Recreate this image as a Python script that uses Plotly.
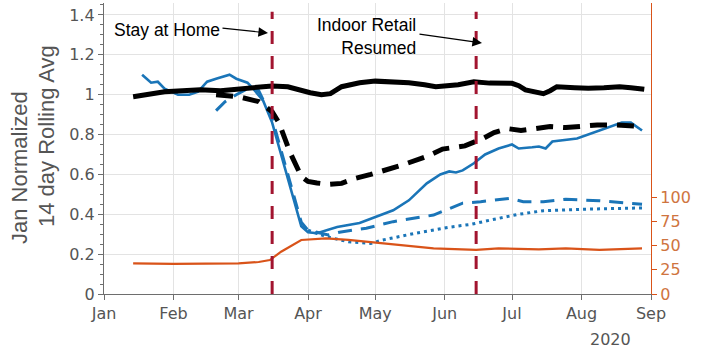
import plotly.graph_objects as go

# ---- data -------------------------------------------------------------
# Jan-normalized 14-day rolling averages (left axis)
black_solid_dates = ["2020-01-14", "2020-01-21", "2020-01-28", "2020-02-05", "2020-02-13",
                     "2020-02-22", "2020-03-01", "2020-03-09", "2020-03-16", "2020-03-23",
                     "2020-03-28", "2020-04-02", "2020-04-07", "2020-04-11", "2020-04-16",
                     "2020-04-24", "2020-05-01", "2020-05-09", "2020-05-16", "2020-05-23",
                     "2020-05-28", "2020-06-02", "2020-06-07", "2020-06-14", "2020-06-21",
                     "2020-07-01", "2020-07-04", "2020-07-07", "2020-07-12", "2020-07-15",
                     "2020-07-18", "2020-07-21", "2020-07-29", "2020-08-04", "2020-08-11",
                     "2020-08-18", "2020-08-23", "2020-08-29"]
black_solid = [0.99, 1.005, 1.015, 1.02, 1.025, 1.02, 1.03, 1.035, 1.044, 1.04,
               1.024, 1.01, 1.0, 1.005, 1.04, 1.06, 1.068, 1.065, 1.06, 1.05,
               1.04, 1.045, 1.05, 1.065, 1.058, 1.057, 1.045, 1.024, 1.01, 1.005,
               1.02, 1.04, 1.035, 1.032, 1.035, 1.04, 1.035, 1.027]

black_dash_dates = ["2020-02-20", "2020-03-01", "2020-03-10", "2020-03-16", "2020-03-19",
                    "2020-03-24", "2020-03-29", "2020-04-01", "2020-04-05", "2020-04-10",
                    "2020-04-16", "2020-04-22", "2020-04-29", "2020-05-06", "2020-05-13",
                    "2020-05-24", "2020-05-31", "2020-06-10", "2020-06-18", "2020-06-23",
                    "2020-06-29", "2020-07-05", "2020-07-11", "2020-07-18", "2020-07-25",
                    "2020-08-08", "2020-08-16", "2020-08-28"]
black_dash = [1.0, 0.99, 0.965, 0.915, 0.86, 0.71, 0.59, 0.565, 0.557, 0.55,
              0.555, 0.58, 0.60, 0.622, 0.647, 0.69, 0.727, 0.743, 0.78, 0.81,
              0.83, 0.82, 0.83, 0.84, 0.835, 0.848, 0.848, 0.84]

blue_solid_dates = ["2020-01-18", "2020-01-22", "2020-01-25", "2020-01-28", "2020-02-03",
                    "2020-02-08", "2020-02-12", "2020-02-16", "2020-02-20", "2020-02-26",
                    "2020-02-29", "2020-03-05", "2020-03-08", "2020-03-12", "2020-03-16",
                    "2020-03-19", "2020-03-25", "2020-03-29", "2020-04-01", "2020-04-05",
                    "2020-04-14", "2020-04-24", "2020-05-09", "2020-05-16", "2020-05-24",
                    "2020-05-30", "2020-06-03", "2020-06-06", "2020-06-09", "2020-06-14",
                    "2020-06-19", "2020-06-25", "2020-07-01", "2020-07-04", "2020-07-10",
                    "2020-07-13", "2020-07-16", "2020-07-19", "2020-07-30", "2020-08-04",
                    "2020-08-12", "2020-08-19", "2020-08-23", "2020-08-28"]
blue_solid = [1.10, 1.06, 1.065, 1.03, 1.0, 1.0, 1.015, 1.065, 1.08, 1.10,
              1.08, 1.06, 1.024, 0.97, 0.86, 0.74, 0.51, 0.34, 0.31, 0.305,
              0.336, 0.356, 0.42, 0.47, 0.555, 0.60, 0.615, 0.61, 0.62, 0.656,
              0.70, 0.73, 0.75, 0.73, 0.736, 0.74, 0.73, 0.765, 0.78, 0.80,
              0.83, 0.86, 0.86, 0.82]

blue_dash_dates = ["2020-02-20", "2020-02-24", "2020-02-29", "2020-03-05", "2020-03-10",
                   "2020-03-16", "2020-03-19", "2020-03-25", "2020-03-29", "2020-04-01",
                   "2020-04-10", "2020-04-15", "2020-04-27", "2020-05-09", "2020-05-27",
                   "2020-06-09", "2020-06-17", "2020-06-30", "2020-07-06", "2020-07-15",
                   "2020-07-25", "2020-08-09", "2020-08-24", "2020-08-28"]
blue_dash = [0.92, 0.965, 1.0, 1.03, 1.02, 0.88, 0.76, 0.52, 0.36, 0.32,
             0.296, 0.31, 0.33, 0.363, 0.396, 0.456, 0.463, 0.48, 0.463, 0.463,
             0.475, 0.468, 0.455, 0.45]

blue_dot_dates = ["2020-04-01", "2020-04-09", "2020-04-19", "2020-04-29", "2020-05-04",
                  "2020-05-19", "2020-06-03", "2020-06-13", "2020-06-21", "2020-07-03",
                  "2020-07-15", "2020-08-01", "2020-08-28"]
blue_dot = [0.32, 0.288, 0.262, 0.254, 0.27, 0.305, 0.335, 0.35, 0.37, 0.398,
            0.418, 0.425, 0.432]

# Right-axis series
orange_dates = ["2020-01-14", "2020-02-01", "2020-03-01", "2020-03-10", "2020-03-15",
                "2020-03-20", "2020-03-29", "2020-04-09", "2020-04-19", "2020-05-04",
                "2020-05-27", "2020-06-15", "2020-06-25", "2020-07-13", "2020-07-25",
                "2020-08-09", "2020-08-28"]
orange = [31.5, 31, 31.5, 33, 35, 43.6, 55.7, 57.4, 55.7, 52.3,
          47, 45.4, 47, 46, 47, 45.4, 47]

# Policy events
event_dates = ["2020-03-16", "2020-06-15"]

left_ticks = [0, 0.2, 0.4, 0.6, 0.8, 1.0, 1.2, 1.4]
left_tick_text = ["0", "0.2", "0.4", "0.6", "0.8", "1", "1.2", "1.4"]
right_ticks = [0, 25, 50, 75, 100]
month_ticks = ["2020-01-01", "2020-02-01", "2020-03-01", "2020-04-01", "2020-05-01",
               "2020-06-01", "2020-07-01", "2020-08-01", "2020-09-01"]

# ---- styling ----------------------------------------------------------
BLUE = "#1f77b4"
BLUE = "#1a75b8"
ORANGE = "#d95319"
MAROON = "#a2142f"
AXIS_GRAY = "#6e6e6e"
TEXT_GRAY = "#555555"
W, H = 702, 352
L, R, T, B = 104, 51, 3, 58
TICK_FONT = dict(family="DejaVu Sans", size=16, color=TEXT_GRAY)


def px_x(x):
    return (x - L) / (W - L - R)


def px_y(y):
    return (H - B - y) / (H - T - B)


fig = go.Figure()

fig.add_trace(go.Scatter(x=orange_dates, y=orange, yaxis="y2", mode="lines",
                         line=dict(color=ORANGE, width=2.2), showlegend=False))
fig.add_trace(go.Scatter(x=blue_dot_dates, y=blue_dot, mode="lines",
                         line=dict(color=BLUE, width=3, dash="3px,4px"), showlegend=False))
fig.add_trace(go.Scatter(x=blue_dash_dates, y=blue_dash, mode="lines",
                         line=dict(color=BLUE, width=3, dash="14px,9px"), showlegend=False))
fig.add_trace(go.Scatter(x=blue_solid_dates, y=blue_solid, mode="lines",
                         line=dict(color=BLUE, width=2.6), showlegend=False))
fig.add_trace(go.Scatter(x=black_dash_dates, y=black_dash, mode="lines",
                         line=dict(color="black", width=5, dash="17px,10px"), showlegend=False))
fig.add_trace(go.Scatter(x=black_solid_dates, y=black_solid, mode="lines",
                         line=dict(color="black", width=5), showlegend=False))

for d in event_dates:
    fig.add_shape(type="line", xref="x", yref="paper", x0=d, x1=d, y0=0, y1=0.97,
                  line=dict(color=MAROON, width=3, dash="13px,12px"))

ANN_FONT = dict(family="Liberation Sans, Arial", size=17.5, color="black")
fig.add_annotation(xref="paper", yref="paper", x=px_x(112), y=px_y(30),
                   xanchor="left", yanchor="middle", text="Stay at Home",
                   showarrow=False, font=ANN_FONT)
fig.add_annotation(xref="paper", yref="paper", x=px_x(418), y=px_y(36),
                   xanchor="right", yanchor="middle", align="right",
                   text="Indoor Retail<br>Resumed", showarrow=False, font=ANN_FONT)
# arrows pointing at the event lines
fig.add_annotation(xref="paper", yref="paper", x=px_x(268), y=px_y(33),
                   axref="pixel", ayref="pixel", ax=-47, ay=-5, text="",
                   showarrow=True, arrowhead=2, arrowsize=1.6, arrowwidth=1.2,
                   arrowcolor="black")
fig.add_annotation(xref="paper", yref="paper", x=px_x(482), y=px_y(43),
                   axref="pixel", ayref="pixel", ax=-64, ay=-9, text="",
                   showarrow=True, arrowhead=2, arrowsize=1.6, arrowwidth=1.2,
                   arrowcolor="black")

# y-axis title, two lines
TITLE_FONT = dict(family="Liberation Sans, Arial", size=22, color=TEXT_GRAY)
fig.add_annotation(xref="paper", yref="paper", x=px_x(19) , y=px_y(168),
                   text="Jan Normalized", textangle=-90, showarrow=False,
                   xanchor="center", yanchor="middle", font=TITLE_FONT)
fig.add_annotation(xref="paper", yref="paper", x=px_x(46), y=px_y(136),
                   text="14 day Rolling Avg", textangle=-90, showarrow=False,
                   xanchor="center", yanchor="middle", font=TITLE_FONT)
fig.add_annotation(xref="paper", yref="paper", x=px_x(610), y=px_y(340),
                   text="2020", showarrow=False, xanchor="center", yanchor="middle",
                   font=TICK_FONT)

fig.update_layout(
    width=W, height=H,
    margin=dict(l=L, r=R, t=T, b=B),
    paper_bgcolor="white", plot_bgcolor="white",
    xaxis=dict(range=["2020-01-01", "2020-09-01"], tickvals=month_ticks,
               tickformat="%b", showgrid=True, gridcolor="#e3e3e3", gridwidth=1,
               showline=True, linecolor=AXIS_GRAY, linewidth=1.3,
               ticks="outside", ticklen=5, tickcolor=AXIS_GRAY,
               tickfont=TICK_FONT, zeroline=False),
    yaxis=dict(range=[0, 1.46], tickvals=left_ticks, ticktext=left_tick_text,
               showgrid=True, gridcolor="#e3e3e3", gridwidth=1,
               showline=True, linecolor=AXIS_GRAY, linewidth=1.3,
               ticks="outside", ticklen=5, tickcolor=AXIS_GRAY,
               minor=dict(dtick=0.05, ticks="outside", ticklen=3, tickcolor=AXIS_GRAY,
                          showgrid=False),
               tickfont=TICK_FONT, zeroline=False),
    yaxis2=dict(range=[0, 300], overlaying="y", side="right", tickvals=right_ticks,
                showgrid=False, showline=True, linecolor=ORANGE, linewidth=1.3,
                ticks="outside", ticklen=5, tickcolor=ORANGE,
                tickfont=dict(family="DejaVu Sans", size=16, color="#cf7440"),
                zeroline=False),
)

fig.write_html("out.html")
